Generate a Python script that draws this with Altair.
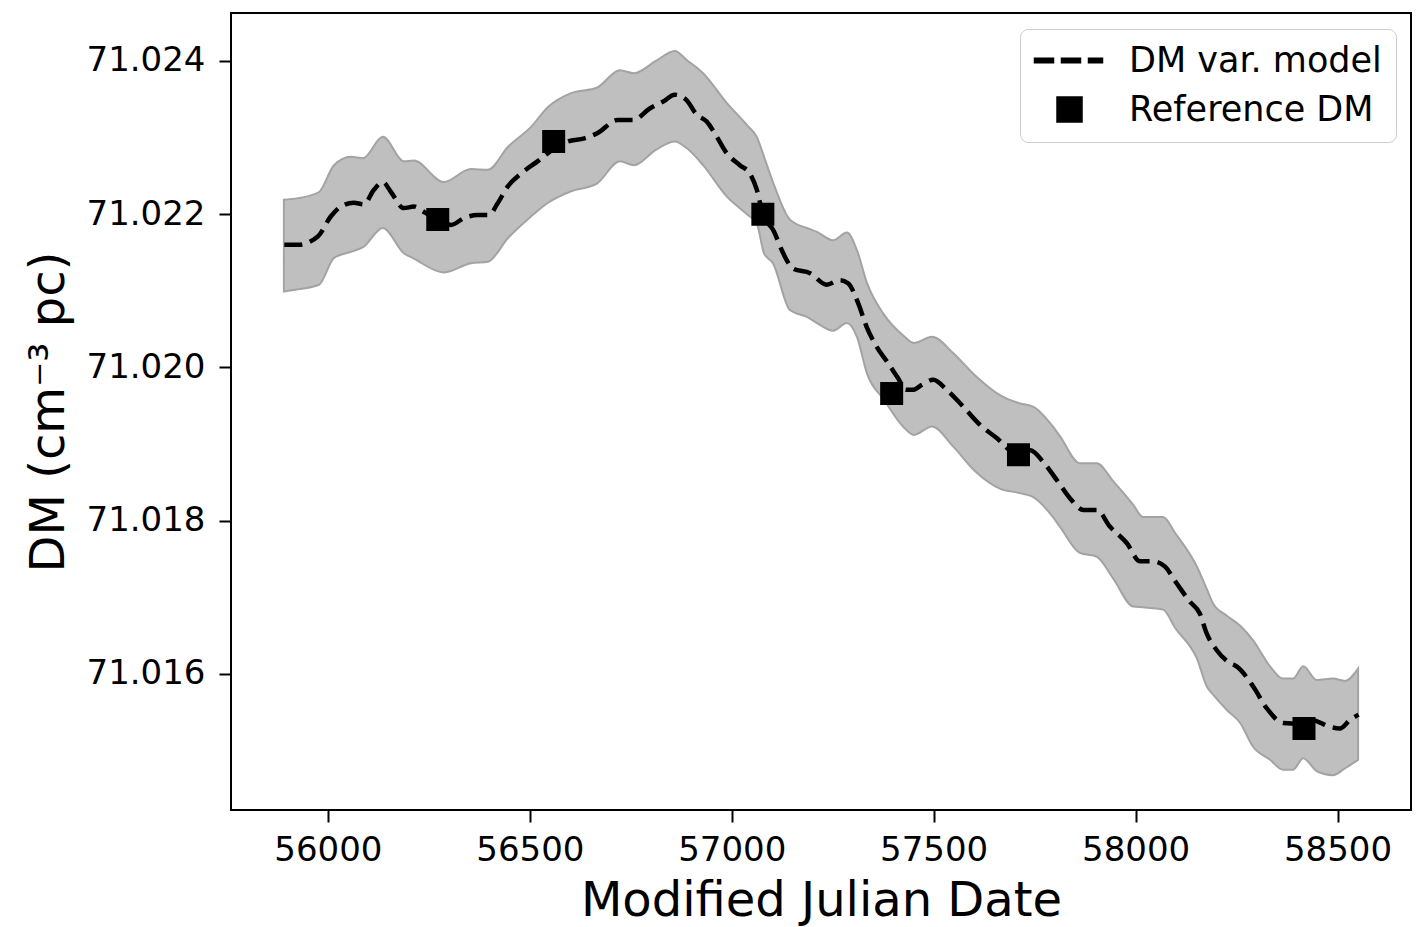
import altair as alt
import pandas as pd

# ---- data ----
model_mjd = [55892, 55925, 55975, 56007, 56032, 56064, 56089, 56114, 56136, 56156,
             56188, 56213, 56238, 56272, 56305, 56337, 56371, 56399, 56420, 56445,
             56478, 56519, 56556, 56594, 56635, 56668, 56717, 56756, 56797, 56830,
             56859, 56888, 56913, 56938, 56963, 56987, 57020, 57045, 57062, 57077,
             57103, 57124, 57136, 57152, 57194, 57235, 57268, 57288, 57313, 57334,
             57359, 57384, 57412, 57431, 57449, 57470, 57499, 57532, 57573, 57615,
             57656, 57710, 57739, 57771, 57805, 57838, 57871, 57904, 57937, 57978,
             58011, 58044, 58073, 58102, 58135, 58159, 58176, 58201, 58234, 58250,
             58292, 58325, 58366, 58407, 58436, 58481, 58506, 58531, 58552]
model_dm = [71.02160, 71.02160, 71.02171, 71.02197, 71.02210, 71.02215, 71.02213, 71.02232, 71.02242, 71.02229,
            71.02208, 71.02210, 71.02203, 71.02193, 71.02186, 71.02195, 71.02199, 71.02199, 71.02214, 71.02236,
            71.02253, 71.02269, 71.02284, 71.02295, 71.02299, 71.02306, 71.02323, 71.02323, 71.02338, 71.02347,
            71.02356, 71.02349, 71.02330, 71.02321, 71.02301, 71.02280, 71.02264, 71.02253, 71.02232, 71.02200,
            71.02179, 71.02153, 71.02140, 71.02129, 71.02123, 71.02108, 71.02114, 71.02110, 71.02084, 71.02053,
            71.02027, 71.02008, 71.01986, 71.01971, 71.01971, 71.01977, 71.01984, 71.01971, 71.01949, 71.01925,
            71.01908, 71.01886, 71.01892, 71.01877, 71.01853, 71.01829, 71.01814, 71.01814, 71.01792, 71.01771,
            71.01747, 71.01747, 71.01740, 71.01718, 71.01694, 71.01679, 71.01653, 71.01631, 71.01614, 71.01610,
            71.01583, 71.01555, 71.01536, 71.01535, 71.01540, 71.01531, 71.01529, 71.01540, 71.01547]

band_mjd = [55891, 55926, 55978, 56015, 56057, 56087, 56136, 56188, 56213, 56287,
            56354, 56396, 56446, 56503, 56545, 56602, 56666, 56723, 56758, 56812,
            56859, 56889, 56929, 56988, 57040, 57062, 57080, 57102, 57144, 57186,
            57211, 57251, 57285, 57310, 57335, 57377, 57424, 57451, 57496, 57548,
            57602, 57664, 57714, 57746, 57795, 57813, 57862, 57904, 57944, 57994,
            58018, 58068, 58098, 58152, 58177, 58192, 58226, 58259, 58291, 58333,
            58365, 58390, 58415, 58449, 58489, 58519, 58551]
band_upper = [71.02219, 71.02221, 71.02229, 71.02264, 71.02275, 71.02273, 71.02301, 71.02269, 71.02270, 71.02242,
              71.02259, 71.02258, 71.02288, 71.02314, 71.02340, 71.02358, 71.02365, 71.02388, 71.02384, 71.02400,
              71.02413, 71.02401, 71.02384, 71.02345, 71.02315, 71.02301, 71.02275, 71.02242, 71.02193, 71.02182,
              71.02177, 71.02166, 71.02176, 71.02153, 71.02110, 71.02069, 71.02042, 71.02032, 71.02040, 71.02019,
              71.01990, 71.01964, 71.01953, 71.01949, 71.01923, 71.01910, 71.01875, 71.01875, 71.01852, 71.01821,
              71.01805, 71.01805, 71.01784, 71.01740, 71.01710, 71.01692, 71.01676, 71.01663, 71.01644, 71.01610,
              71.01594, 71.01594, 71.01610, 71.01592, 71.01594, 71.01591, 71.01607]
band_lower = [71.02099, 71.02102, 71.02108, 71.02143, 71.02151, 71.02157, 71.02182, 71.02149, 71.02142, 71.02124,
              71.02136, 71.02138, 71.02169, 71.02197, 71.02215, 71.02230, 71.02240, 71.02269, 71.02264, 71.02284,
              71.02295, 71.02286, 71.02264, 71.02223, 71.02199, 71.02188, 71.02149, 71.02136, 71.02075, 71.02066,
              71.02058, 71.02048, 71.02058, 71.02040, 71.01992, 71.01958, 71.01923, 71.01912, 71.01923, 71.01897,
              71.01865, 71.01842, 71.01836, 71.01831, 71.01805, 71.01792, 71.01758, 71.01753, 71.01725, 71.01688,
              71.01687, 71.01684, 71.01660, 71.01620, 71.01583, 71.01573, 71.01553, 71.01536, 71.01505, 71.01488,
              71.01475, 71.01475, 71.01490, 71.01473, 71.01468, 71.01477, 71.01488]

ref_mjd = [56272, 56559, 57077, 57396, 57710, 58417]
ref_dm = [71.02193, 71.02295, 71.02200, 71.01966, 71.01886, 71.01529]

series_names = ["DM var. model", "Reference DM"]
x_ticks = [56000, 56500, 57000, 57500, 58000, 58500]
y_ticks = [71.016, 71.018, 71.020, 71.022, 71.024]

model = pd.DataFrame({"mjd": model_mjd, "dm": model_dm})
band = pd.DataFrame({"mjd": band_mjd, "upper": band_upper, "lower": band_lower})
ref = pd.DataFrame({"mjd": ref_mjd, "dm": ref_dm, "series": [series_names[1]] * len(ref_mjd)})

FONT = "DejaVu Sans"
x_scale = alt.Scale(domain=[55760, 58682], nice=False, zero=False)
y_scale = alt.Scale(domain=[71.014225, 71.024626], nice=False, zero=False)

x_axis = alt.Axis(title="Modified Julian Date", values=x_ticks, format="d",
                  grid=False, domain=False, ticks=True, tickSize=12, tickWidth=2,
                  tickColor="black", labelFont=FONT, labelFontSize=34, labelColor="black",
                  labelPadding=11, titleFont=FONT, titleFontSize=48, titleFontWeight="normal",
                  titleColor="black", titleBaseline="alphabetic", titleY=105)
y_axis = alt.Axis(title="DM (cm\u207b\u00b3 pc)", values=y_ticks, format=".3f",
                  grid=False, domain=False, ticks=True, tickSize=12, tickWidth=2,
                  tickColor="black", labelFont=FONT, labelFontSize=34, labelColor="black",
                  labelPadding=14, titleFont=FONT, titleFontSize=48, titleFontWeight="normal",
                  titleColor="black", titleBaseline="alphabetic", titleX=-168)

X = alt.X("mjd:Q", scale=x_scale, axis=x_axis)

band_layer = alt.Chart(band).mark_area(
    color="#bfbfbf", opacity=1, stroke="#a3a3a3", strokeWidth=2, interpolate="monotone"
).encode(x=X, y=alt.Y("upper:Q", scale=y_scale, axis=y_axis), y2="lower:Q")

line_layer = alt.Chart(model).mark_line(
    color="black", strokeWidth=4.5, strokeDash=[18, 8], interpolate="monotone"
).encode(x=X, y=alt.Y("dm:Q", scale=y_scale, axis=y_axis))

# legend handle for the model: three filled dashes drawn as a custom symbol path
dash_path = ("M-2.8,-0.18L-1.28,-0.18L-1.28,0.18L-2.8,0.18Z"
             "M-0.64,-0.18L0.88,-0.18L0.88,0.18L-0.64,0.18Z"
             "M1.52,-0.18L2.64,-0.18L2.64,0.18L1.52,0.18Z")

point_layer = alt.Chart(ref).mark_point(
    filled=True, fill="black", stroke="black", strokeWidth=3, size=400, opacity=1
).encode(
    x=X, y=alt.Y("dm:Q", scale=y_scale, axis=y_axis),
    shape=alt.Shape("series:N",
                    scale=alt.Scale(domain=series_names, range=[dash_path, "square"]),
                    legend=alt.Legend(title=None, orient="none", legendX=789, legendY=16,
                                      fillColor="white", strokeColor="#cccccc", cornerRadius=8,
                                      padding=14, labelFont=FONT, labelFontSize=35,
                                      labelColor="black", labelLimit=600, symbolSize=625,
                                      symbolFillColor="black", symbolOpacity=1,
                                      symbolOffset=18, labelOffset=42, rowPadding=13)),
)

chart = alt.layer(band_layer, line_layer, point_layer).properties(
    width=1180, height=797,
    autosize=alt.AutoSizeParams(type="none"),
    padding={"left": 231, "top": 13, "right": 5, "bottom": 117},
    background="white",
).configure_view(stroke="black", strokeWidth=2)

chart.save("out.html", embed_options={"renderer": "svg", "actions": False})
